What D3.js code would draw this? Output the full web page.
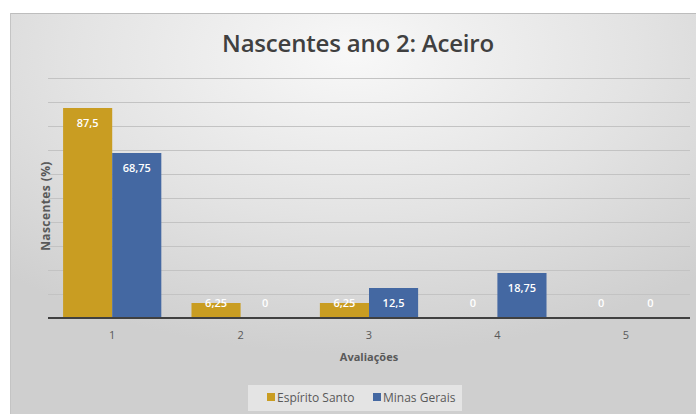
<!DOCTYPE html>
<html>
<head>
<meta charset="utf-8">
<script src="https://cdn.jsdelivr.net/npm/d3@7"></script>
<style>
  html, body { margin: 0; padding: 0; background: #fff; }
  svg { display: block; }
  text { font-family: "Open Sans", "Noto Sans", sans-serif; }
</style>
</head>
<body>
<svg id="chart" width="696" height="414"></svg>
<script>
// Avaliações (x categories) and percentage of springs per state
const categories = ["1", "2", "3", "4", "5"];
const seriesNames = ["Espírito Santo", "Minas Gerais"];
const espiritoSanto = [87.5, 6.25, 6.25, 0, 0];
const minasGerais = [68.75, 0, 12.5, 18.75, 0];
const yTicks = [0, 10, 20, 30, 40, 50, 60, 70, 80, 90, 100];
const seriesColors = ["#C99D22", "#4468A2"];

const fmt = v => String(v).replace(".", ",");

const svg = d3.select("#chart");
const W = 696, H = 414;

// Panel background with soft radial shading
const defs = svg.append("defs");
const grad = defs.append("radialGradient")
  .attr("id", "bg").attr("cx", "50%").attr("cy", "10%").attr("r", "75%")
  .attr("gradientUnits", "objectBoundingBox");
grad.append("stop").attr("offset", "0%").attr("stop-color", "#f8f8f8");
grad.append("stop").attr("offset", "55%").attr("stop-color", "#e3e3e3");
grad.append("stop").attr("offset", "100%").attr("stop-color", "#cfcfcf");

svg.append("rect").attr("x", 10).attr("y", 13).attr("width", W - 10).attr("height", H - 13)
  .attr("fill", "url(#bg)");
svg.append("line").attr("x1", 10).attr("x2", W).attr("y1", 13.5).attr("y2", 13.5)
  .attr("stroke", "#bdbdbd");
svg.append("line").attr("x1", 10.5).attr("x2", 10.5).attr("y1", 13).attr("y2", H)
  .attr("stroke", "#c4c4c4");

const plot = { left: 48, right: 690, top: 78, bottom: 318 };

const x0 = d3.scaleBand().domain(categories).range([plot.left, plot.right]).paddingInner(0.235).paddingOuter(0.1175);
const x1 = d3.scaleBand().domain(seriesNames).range([0, x0.bandwidth()]);
const y = d3.scaleLinear().domain([0, 100]).range([plot.bottom, plot.top]);

// Horizontal gridlines
svg.append("g").selectAll("line").data(yTicks.filter(t => t > 0)).join("line")
  .attr("x1", plot.left).attr("x2", plot.right)
  .attr("y1", d => Math.round(y(d)) + 0.5).attr("y2", d => Math.round(y(d)) + 0.5)
  .attr("stroke", "#c3c3c3").attr("stroke-width", 1);

// Bars
const rows = categories.map((c, i) => ({ cat: c, vals: [espiritoSanto[i], minasGerais[i]] }));
const groups = svg.append("g").selectAll("g").data(rows).join("g")
  .attr("transform", d => `translate(${x0(d.cat)},0)`);

groups.selectAll("rect").data(d => d.vals.map((v, k) => ({ v, k })))
  .join("rect")
  .attr("x", d => x1(seriesNames[d.k]))
  .attr("width", x1.bandwidth())
  .attr("y", d => y(d.v))
  .attr("height", d => y(0) - y(d.v))
  .attr("fill", d => seriesColors[d.k]);

// Value labels
groups.selectAll("text").data(d => d.vals.map((v, k) => ({ v, k })))
  .join("text")
  .attr("x", d => x1(seriesNames[d.k]) + x1.bandwidth() / 2)
  .attr("y", d => Math.min(y(d.v) + 15, y(0) - 15) + 4)
  .attr("text-anchor", "middle")
  .attr("font-size", 11).attr("font-weight", 600)
  .attr("fill", "#ffffff")
  .text(d => fmt(d.v));

// X axis
const xAxis = svg.append("g").attr("transform", `translate(0,${plot.bottom})`)
  .call(d3.axisBottom(x0).tickSize(0).tickPadding(13));
xAxis.select(".domain").attr("stroke", "#404040").attr("stroke-width", 2)
  .attr("d", `M${plot.left},0H${plot.right}`);
xAxis.selectAll("text").attr("font-size", 11).attr("fill", "#595959")
  .attr("font-family", "'Open Sans', sans-serif");

// Titles
svg.append("text").attr("x", 358).attr("y", 52).attr("text-anchor", "middle")
  .attr("font-size", 24).attr("font-weight", 600).attr("fill", "#404040")
  .attr("letter-spacing", -0.2)
  .text("Nascentes ano 2: Aceiro");

svg.append("text").attr("x", 369).attr("y", 361).attr("text-anchor", "middle")
  .attr("font-size", 11).attr("font-weight", 700).attr("fill", "#595959")
  .text("Avaliações");

svg.append("text").attr("transform", "translate(50,206) rotate(-90)")
  .attr("text-anchor", "middle")
  .attr("font-size", 12).attr("font-weight", 700).attr("fill", "#595959")
  .attr("letter-spacing", 0.4)
  .text("Nascentes (%)");

// Legend
const legend = svg.append("g");
legend.append("rect").attr("x", 248).attr("y", 385).attr("width", 214).attr("height", 26)
  .attr("fill", "#e8e8e8").attr("opacity", 0.8);
const legendItems = [{ name: seriesNames[0], x: 267 }, { name: seriesNames[1], x: 373 }];
legendItems.forEach((it, k) => {
  legend.append("rect").attr("x", it.x).attr("y", 393).attr("width", 8).attr("height", 8)
    .attr("fill", seriesColors[k]);
  legend.append("text").attr("x", it.x + 10).attr("y", 402)
    .attr("font-size", 12).attr("fill", "#595959")
    .text(it.name);
});
</script>
</body>
</html>
